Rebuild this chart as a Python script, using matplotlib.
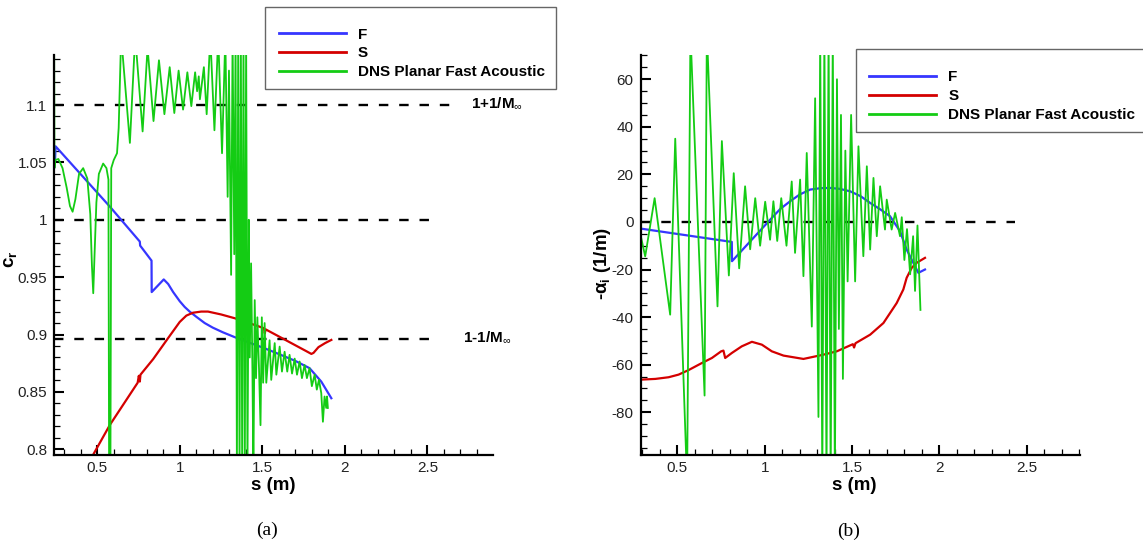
import matplotlib
matplotlib.use("Agg")
import matplotlib.pyplot as plt
from matplotlib.ticker import MultipleLocator, FormatStrFormatter
from matplotlib.patches import Rectangle

plt.rcParams['font.family'] = ['Liberation Sans', 'DejaVu Sans']
plt.rcParams['mathtext.fontset'] = 'custom'
plt.rcParams['mathtext.rm'] = 'Liberation Sans'
plt.rcParams['mathtext.it'] = 'Liberation Sans:italic'
plt.rcParams['mathtext.bf'] = 'Liberation Sans:bold'
plt.rcParams['axes.unicode_minus'] = False

# ---- panel (a): phase speed c_r ----
blue_a_s = [0.240, 0.244, 0.248, 0.577, 0.758, 0.760, 0.829, 0.830, 0.903, 0.93, 0.96, 1.0,
            1.03, 1.06, 1.10, 1.151, 1.20, 1.26, 1.333, 1.42, 1.514, 1.60, 1.70, 1.786,
            1.857, 1.918]
blue_a_c = [1.046, 1.050, 1.064, 1.0114, 0.981, 0.9775, 0.9644, 0.937, 0.948, 0.944, 0.937, 0.929,
            0.924, 0.920, 0.9155, 0.910, 0.906, 0.902, 0.8977, 0.893, 0.888, 0.883, 0.877, 0.8707,
            0.859, 0.8445]

red_a_s = [0.455, 0.577, 0.745, 0.752, 0.758, 0.762, 0.839, 0.929, 0.97, 1.0, 1.04, 1.08,
           1.13, 1.171, 1.25, 1.333, 1.42, 1.510, 1.515, 1.520, 1.65, 1.76, 1.797, 1.81,
           1.84, 1.88, 1.918]
red_a_c = [0.790, 0.8213, 0.858, 0.864, 0.859, 0.865, 0.8786, 0.8968, 0.905, 0.911, 0.9165, 0.919,
           0.920, 0.920, 0.9175, 0.9142, 0.910, 0.9055, 0.901, 0.9045, 0.8945, 0.886, 0.8831, 0.884,
           0.889, 0.8925, 0.8953]

green_a_s = [0.239, 0.241, 0.246, 0.265, 0.29, 0.315, 0.335, 0.351, 0.368, 0.39, 0.415, 0.44,
             0.458, 0.468, 0.476, 0.484, 0.495, 0.51, 0.536, 0.556, 0.568, 0.572, 0.580, 0.585,
             0.60, 0.62, 0.63, 0.645, 0.698, 0.73, 0.775, 0.805, 0.841, 0.874, 0.907, 0.939,
             0.967, 0.993, 1.020, 1.046, 1.070, 1.093, 1.105, 1.115, 1.122, 1.135, 1.146, 1.163,
             1.185, 1.210, 1.233, 1.256, 1.276, 1.290, 1.298, 1.311, 1.320, 1.330, 1.338, 1.346,
             1.354, 1.362, 1.370, 1.378, 1.386, 1.394, 1.402, 1.410, 1.418, 1.424, 1.432, 1.440,
             1.446, 1.454, 1.462, 1.470, 1.480, 1.489, 1.497, 1.505, 1.514, 1.524, 1.544, 1.554,
             1.575, 1.585, 1.605, 1.619, 1.635, 1.651, 1.665, 1.680, 1.696, 1.710, 1.726, 1.740,
             1.756, 1.770, 1.786, 1.800, 1.817, 1.830, 1.843, 1.857, 1.867, 1.877, 1.887, 1.892,
             1.897]
green_a_c = [1.16, 1.045, 1.052, 1.053, 1.045, 1.028, 1.012, 1.007, 1.018, 1.040, 1.045, 1.036,
             1.005, 0.96, 0.936, 0.97, 1.015, 1.040, 1.049, 1.045, 1.035, 0.78, 0.78, 1.045,
             1.052, 1.058, 1.08, 1.16, 1.067, 1.16, 1.077, 1.15, 1.086, 1.139, 1.092, 1.133,
             1.093, 1.130, 1.096, 1.1285, 1.099, 1.1285, 1.112, 1.125, 1.105, 1.12, 1.133, 1.092,
             1.16, 1.078, 1.16, 1.058, 1.16, 1.02, 1.13, 0.952, 1.16, 0.97, 1.16, 0.78,
             1.16, 0.78, 1.16, 0.78, 1.16, 0.78, 1.16, 0.78, 1.0, 0.88, 0.962, 0.87,
             0.78, 0.93, 0.862, 0.915, 0.87, 0.821, 0.915, 0.858, 0.910, 0.858, 0.895, 0.8605,
             0.8925, 0.865, 0.8895, 0.8677, 0.885, 0.8677, 0.8823, 0.866, 0.879, 0.865, 0.8765, 0.862,
             0.8735, 0.862, 0.8707, 0.855, 0.865, 0.852, 0.8605, 0.849, 0.824, 0.846, 0.836, 0.846,
             0.836]

ref_a = [1.1, 1.0, 0.8965]
ref_a_end = [2.664, 2.549, 2.549]

# ---- panel (b): growth rate -alpha_i ----
blue_b_s = [0.291, 0.812, 0.813, 1.041, 1.09, 1.146, 1.20, 1.26, 1.32, 1.375, 1.43, 1.489,
            1.55, 1.604, 1.66, 1.718, 1.775, 1.813, 1.851, 1.88, 1.918]
blue_b_a = [-2.8, -8.4, -16.5, 1.7, 5.5, 8.7, 11.5, 13.6, 14.2, 14.3, 13.9, 12.9,
            10.8, 8.0, 5.4, 2.4, -3.9, -11.6, -17.2, -21.4, -20.0]

red_b_s = [0.291, 0.374, 0.45, 0.507, 0.564, 0.641, 0.698, 0.751, 0.764, 0.774, 0.812, 0.869,
           0.927, 0.984, 1.041, 1.108, 1.222, 1.337, 1.413, 1.505, 1.512, 1.52, 1.604, 1.68,
           1.756, 1.794, 1.813, 1.842, 1.87, 1.918]
red_b_a = [-66.3, -66.0, -65.3, -64.2, -62.3, -59.3, -57.2, -54.4, -54.1, -57.2, -55.1, -52.3,
           -50.4, -51.6, -54.4, -56.2, -57.6, -55.8, -54.4, -51.4, -52.8, -51.0, -47.4, -42.5,
           -34.1, -28.4, -23.5, -19.3, -17.2, -15.1]

green_b_s = [0.291, 0.316, 0.37, 0.459, 0.488, 0.556, 0.575, 0.656, 0.669, 0.730, 0.755, 0.795,
             0.823, 0.854, 0.888, 0.917, 0.946, 0.974, 1.003, 1.031, 1.05, 1.072, 1.095, 1.125,
             1.155, 1.174, 1.203, 1.222, 1.241, 1.270, 1.289, 1.308, 1.318, 1.330, 1.342, 1.354,
             1.366, 1.378, 1.390, 1.402, 1.414, 1.425, 1.437, 1.448, 1.462, 1.475, 1.495, 1.518,
             1.537, 1.565, 1.585, 1.604, 1.623, 1.642, 1.661, 1.689, 1.699, 1.727, 1.747, 1.775,
             1.785, 1.80, 1.815, 1.833, 1.85, 1.861, 1.875, 1.892]
green_b_a = [-6, -14.5, 10, -39, 35, -110, 80, -73, 80, -35.5, 34, -22.5,
             20.5, -19.5, 15, -11.5, 10, -10, 8.5, -7.5, 8.7, -8, 10, -10,
             17, -13, 17.8, -22.8, 29, -44, 52, -82, 80, -110, 80, -110,
             80, -110, 80, -110, 60, -45, 45, -66, 30, -25, 45, -25,
             31.8, -14.4, 23.4, -11.6, 18.5, -6, 15, -3.2, 9.4, -3.2, 3.8, -6,
             2, -16, -3, -22, -6, -29, -1.5, -37]

ref_b_end = 2.433

labels = ['F', 'S', 'DNS Planar Fast Acoustic']
colors = ['#3636ff', '#d40000', '#14cc14']

fig = plt.figure(figsize=(11.43, 5.51), dpi=100)
ax1 = fig.add_axes([0.0472, 0.1742, 0.3841, 0.7260])
ax2 = fig.add_axes([0.5605, 0.1742, 0.3843, 0.7260])


def style_axes(ax):
    for side in ['top', 'right']:
        ax.spines[side].set_visible(False)
    for side in ['left', 'bottom']:
        ax.spines[side].set_linewidth(1.6)
    ax.tick_params(which='major', direction='in', length=7.5, width=1.5, labelsize=11,
                   labelcolor='#222222')
    ax.tick_params(which='minor', direction='in', length=4.5, width=0.9)
    ax.tick_params(axis='y', pad=5)
    ax.tick_params(axis='x', pad=4)
    ax.xaxis.set_major_locator(MultipleLocator(0.5))
    ax.xaxis.set_minor_locator(MultipleLocator(0.1))
    ax.xaxis.set_major_formatter(FormatStrFormatter('%g'))
    ax.set_xlabel('s (m)', fontsize=13.5, fontweight='bold')


# panel (a)
for xe, yv in zip(ref_a_end, ref_a):
    ax1.plot([0.238, xe], [yv, yv], color='black', lw=1.7, dashes=(4, 4.6))
ax1.plot(blue_a_s, blue_a_c, color=colors[0], lw=1.6, label=labels[0])
ax1.plot(red_a_s, red_a_c, color=colors[1], lw=1.6, label=labels[1])
ax1.plot(green_a_s, green_a_c, color=colors[2], lw=1.3, label=labels[2])
ax1.set_xlim(0.238, 2.897)
ax1.set_ylim(0.795, 1.1436)
style_axes(ax1)
ax1.yaxis.set_major_locator(MultipleLocator(0.05))
ax1.yaxis.set_minor_locator(MultipleLocator(0.01))
ax1.yaxis.set_major_formatter(FormatStrFormatter('%g'))
ax1.set_ylabel('c$_\\mathbf{r}$', fontsize=13.5, fontweight='bold')
ax1.yaxis.set_label_coords(-0.080, 0.49)
ax1.xaxis.set_label_coords(0.5, -0.055)
ax1.text(2.765, 1.1015, '1+1/M$_{\\infty}$', fontsize=11, fontweight='bold', va='center')
ax1.text(2.714, 0.8977, '1-1/M$_{\\infty}$', fontsize=11, fontweight='bold', va='center')

# panel (b)
ax2.plot([0.29, ref_b_end], [0, 0], color='black', lw=1.7, dashes=(4, 4.6))
ax2.plot(blue_b_s, blue_b_a, color=colors[0], lw=1.6, label=labels[0])
ax2.plot(red_b_s, red_b_a, color=colors[1], lw=1.6, label=labels[1])
ax2.plot(green_b_s, green_b_a, color=colors[2], lw=1.3, label=labels[2])
ax2.set_xlim(0.29, 2.805)
ax2.set_ylim(-98, 70.2)
style_axes(ax2)
ax2.yaxis.set_major_locator(MultipleLocator(20))
ax2.yaxis.set_minor_locator(MultipleLocator(5))
ax2.yaxis.set_major_formatter(FormatStrFormatter('%g'))
ax2.set_ylabel('-\u03b1$_\\mathregular{i}$ (1/m)', fontsize=13.5, fontweight='bold')
ax2.yaxis.set_label_coords(-0.064, 0.48)
ax2.xaxis.set_label_coords(0.486, -0.055)

# legends: frame boxes drawn separately, as in the original export
for ax, anchor, box in [(ax1, (0.2441, 0.9500), (0.2318, 0.8379, 0.2546, 0.1488)),
                        (ax2, (0.7607, 0.8725), (0.7489, 0.7610, 0.2600, 0.1501))]:
    leg = ax.legend(loc='upper left', bbox_to_anchor=anchor, bbox_transform=fig.transFigure,
                    frameon=False, borderpad=0, borderaxespad=0, handlelength=4.38,
                    handletextpad=0.79, labelspacing=0.32,
                    prop={'weight': 'bold', 'size': 11})
    for h in leg.legend_handles:
        h.set_linewidth(2.0)
    fig.add_artist(Rectangle(box[:2], box[2], box[3], transform=fig.transFigure,
                             fill=False, edgecolor='#666666', lw=1.0))

fig.text(267 / 1143, 1 - 530 / 551, '(a)', ha='center', va='center', fontsize=14,
         family='Liberation Serif')
fig.text(849 / 1143, 1 - 531 / 551, '(b)', ha='center', va='center', fontsize=14,
         family='Liberation Serif')

fig.savefig('out.png', dpi=100)
